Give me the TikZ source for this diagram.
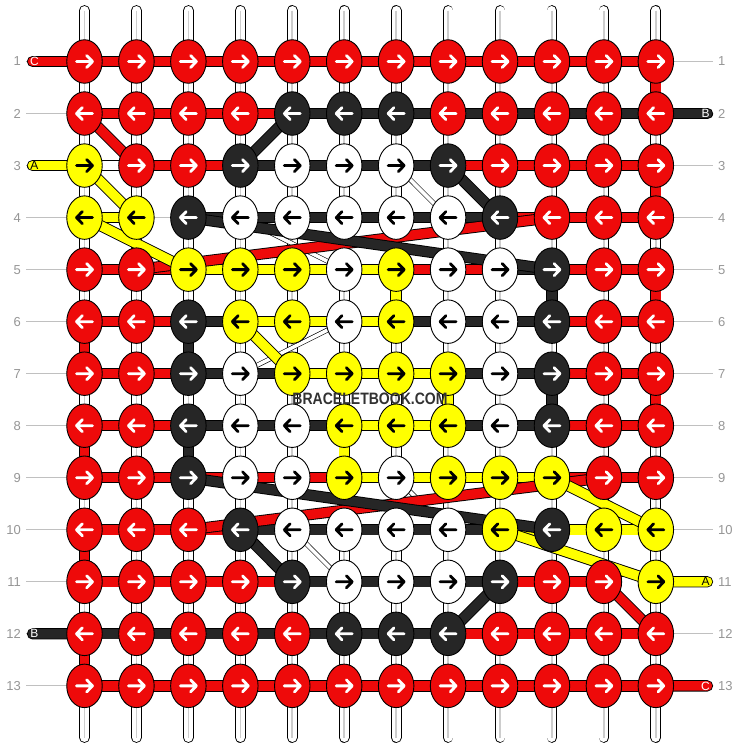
\documentclass[tikz,border=0pt]{standalone}
\usepackage{fontspec}
\setmainfont{Liberation Sans}
\usetikzlibrary{shapes.geometric}
\definecolor{cR}{RGB}{238,10,10}
\definecolor{cK}{RGB}{38,38,38}
\definecolor{cY}{RGB}{255,255,0}
\definecolor{cW}{RGB}{255,255,255}
\definecolor{aR}{RGB}{255,255,255}
\definecolor{aK}{RGB}{255,255,255}
\definecolor{aY}{RGB}{0,0,0}
\definecolor{aW}{RGB}{0,0,0}
\definecolor{guide}{RGB}{192,192,192}
\definecolor{numgray}{RGB}{150,150,150}
\definecolor{basegray}{RGB}{205,205,205}
\definecolor{wmgray}{RGB}{50,50,50}
\tikzset{
 bandR/.style={draw=black,line width=0.9,double=cR,double distance=9.5},
 bandK/.style={draw=black,line width=0.9,double=cK,double distance=9.5},
 bandY/.style={draw=black,line width=0.9,double=cY,double distance=9.5},
 bandW/.style={draw=black,line width=0.9,double=cW,double distance=9.5},
 bandN/.style={draw=none},
 thinW/.style={draw=black,line width=0.6,double=white,double distance=3.6},
 knot/.style={ellipse,draw=black,line width=0.9,minimum width=35.5,minimum height=43.5,inner sep=0},
 arr/.style={line width=2.8,line cap=round,line join=round},
 num/.style={text=numgray,font=\fontsize{13}{13}\selectfont,inner sep=0},
 endlbl/.style={font=\fontsize{12}{12}\selectfont,inner sep=0},
}
\begin{document}
\begin{tikzpicture}[x=1pt,y=-1pt]
\useasboundingbox (0,0) rectangle (740,748);
\fill[white] (0,0) rectangle (740,748);
% grid coordinates
\foreach \ro in {1,...,13}{\foreach \co in {1,...,12}{
  \coordinate (p-\ro-\co) at ({84.5+(\co-1)*51.94},{61.5+(\ro-1)*52.03});}}
% row guide lines
\foreach \ro in {1,...,13}{
  \coordinate (gl-\ro) at (26,{61.5+(\ro-1)*52.03});
  \coordinate (gr-\ro) at (713,{61.5+(\ro-1)*52.03});
  \draw[guide,line width=0.9] (gl-\ro) -- (gr-\ro);}
% base strings
\foreach \co in {1,...,12}{
  \coordinate (bt-\co) at ({84.5+(\co-1)*51.94},10.5);
  \coordinate (bb-\co) at ({84.5+(\co-1)*51.94},737.5);
  \draw[draw=black,line width=0.9,double=white,double distance=9,line cap=round] (bt-\co) -- (bb-\co);
  \draw[basegray,line width=1.6] (bt-\co) -- (bb-\co);}
% coloured vertical connectors
\foreach \ro/\co/\k in {1/12/R,3/12/R,5/12/R,7/12/R,6/1/R,8/1/R,10/1/R,12/1/R,6/3/K,8/3/K,5/10/K,7/10/K,5/7/Y,7/8/Y,8/6/Y}{
  \pgfmathtruncatemacro\rn{\ro+1}
  \path[band\k] (p-\ro-\co) -- (p-\rn-\co);}
% horizontal connectors
\foreach \ro/\lst in {
 1/{R,R,R,R,R,R,R,R,R,R,R},
 2/{R,R,R,R,K,K,K,K,K,K,K},
 3/{W,R,R,K,K,K,K,R,R,R,R},
 4/{Y,N,K,K,K,K,K,K,R,R,R},
 5/{R,R,Y,Y,Y,Y,R,R,K,R,R},
 6/{R,R,K,Y,Y,Y,K,K,K,R,R},
 7/{R,R,K,K,Y,Y,Y,K,K,R,R},
 8/{R,R,K,K,K,Y,Y,K,K,R,R},
 9/{R,R,R,R,R,Y,Y,Y,Y,R,R},
 10/{R,R,R,K,K,K,K,K,Y,Y,Y},
 11/{R,R,R,R,K,K,K,K,R,R,W},
 12/{K,K,K,K,K,K,K,R,R,R,R},
 13/{R,R,R,R,R,R,R,R,R,R,R}}{
  \foreach \k [count=\co] in \lst {
    \pgfmathtruncatemacro\cn{\co+1}
    \path[band\k] (p-\ro-\co) -- (p-\ro-\cn);}}
% thin white diagonals
\foreach \ra/\ca/\rb/\cb in {3/7/4/8,4/4/5/6,6/6/7/4,9/7/10/8,10/5/11/6}{
  \path[thinW] (p-\ra-\ca) -- (p-\rb-\cb);}
% thick diagonals
\foreach \ra/\ca/\rb/\cb/\k in {2/1/3/2/R,5/2/4/10/R,10/3/9/11/R,11/11/12/12/R,
  3/1/4/2/Y,4/1/5/3/Y,6/4/7/5/Y,9/10/10/12/Y,
  2/5/3/4/K,3/8/4/9/K,4/3/5/10/K,9/3/10/10/K,10/4/11/5/K,11/9/12/8/K,
  10/9/11/12/Y}{
  \path[band\k] (p-\ra-\ca) -- (p-\rb-\cb);}
% string ends
\coordinate (eL-1) at (32.5,61.5);
\coordinate (eL-3) at (32.5,165.56);
\coordinate (eL-12) at (32.5,633.83);
\coordinate (eR-2) at (707.5,113.53);
\coordinate (eR-11) at (707.5,581.77);
\coordinate (eR-13) at (707.5,685.86);
\path[bandR,line cap=round] (eL-1) -- (p-1-1);
\path[bandY,line cap=round] (eL-3) -- (p-3-1);
\path[bandK,line cap=round] (eL-12) -- (p-12-1);
\path[bandK,line cap=round] (eR-2) -- (p-2-12);
\path[bandY,line cap=round] (eR-11) -- (p-11-12);
\path[bandR,line cap=round] (eR-13) -- (p-13-12);
\node[endlbl,text=white] (lC1) at (34.5,61.5) {C};
\node[endlbl,text=black] (lA1) at (34.5,165.56) {A};
\node[endlbl,text=white] (lB1) at (34.5,633.83) {B};
\node[endlbl,text=white] (lB2) at (705.5,113.53) {B};
\node[endlbl,text=black] (lA2) at (705.5,581.77) {A};
\node[endlbl,text=white] (lC2) at (705.5,685.86) {C};
% knots
\foreach \ro/\lst in {
 1/{R,R,R,R,R,R,R,R,R,R,R,R},
 2/{R,R,R,R,K,K,K,R,R,R,R,R},
 3/{Y,R,R,K,W,W,W,K,R,R,R,R},
 4/{Y,Y,K,W,W,W,W,W,K,R,R,R},
 5/{R,R,Y,Y,Y,W,Y,W,W,K,R,R},
 6/{R,R,K,Y,Y,W,Y,W,W,K,R,R},
 7/{R,R,K,W,Y,Y,Y,Y,W,K,R,R},
 8/{R,R,K,W,W,Y,Y,Y,W,K,R,R},
 9/{R,R,K,W,W,Y,W,Y,Y,Y,R,R},
 10/{R,R,R,K,W,W,W,W,Y,K,Y,Y},
 11/{R,R,R,R,K,W,W,W,K,R,R,Y},
 12/{R,R,R,R,R,K,K,K,R,R,R,R},
 13/{R,R,R,R,R,R,R,R,R,R,R,R}}{
  \pgfmathsetmacro\dir{ifthenelse(mod(\ro,2)==1,1,-1)}
  \foreach \k [count=\co] in \lst {
    \node[knot,fill=c\k] (k-\ro-\co) at (p-\ro-\co) {};
    \begin{scope}[shift={(p-\ro-\co)},xscale=\dir]
      \draw[arr,draw=a\k] (-8,0) -- (8,0) (2.2,-6) -- (8,0) -- (2.2,6);
    \end{scope}}}
% row numbers
\foreach \ro in {1,...,13}{
  \node[num,anchor=east] (nl-\ro) at (21,{61.5+(\ro-1)*52.03}) {\ro};
  \node[num,anchor=west] (nr-\ro) at (718,{61.5+(\ro-1)*52.03}) {\ro};}
% watermark
\node[font=\bfseries\fontsize{16.5}{16.5}\selectfont,text=wmgray,inner sep=0,xscale=0.85] (wm) at (370,399) {BRACELETBOOK.COM};
\end{tikzpicture}
\end{document}
